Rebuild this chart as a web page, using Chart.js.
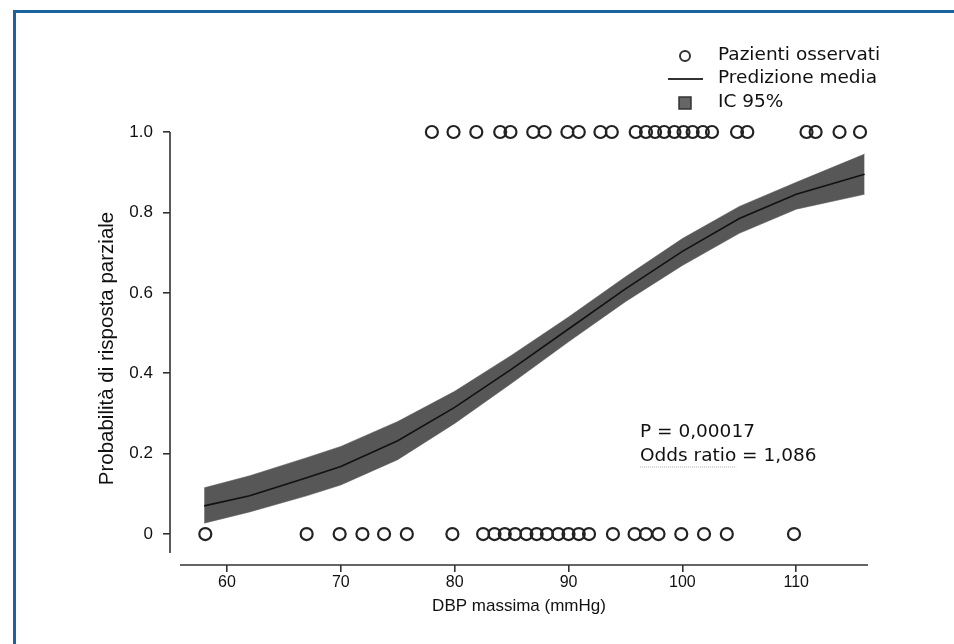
<!DOCTYPE html>
<html>
<head>
<meta charset="utf-8">
<script src="https://cdn.jsdelivr.net/npm/chart.js@4"></script>
<style>
  html, body { margin: 0; padding: 0; background: #fff; }
  canvas { display: block; }
</style>
</head>
<body>
<canvas id="chart" width="954" height="644"></canvas>
<script>
// axis ticks
const xTicks = [60, 70, 80, 90, 100, 110];
const yTicks = [0, 0.2, 0.4, 0.6, 0.8, 1.0];
const yTickLabels = ["0", "0.2", "0.4", "0.6", "0.8", "1.0"];

// observed patients (DBP massima), responders at 1, non responders at 0
const respondersDbp = [78.0, 79.9, 81.9, 84.0, 84.9, 86.9, 87.9, 89.9, 90.9, 92.8, 93.8,
  95.9, 96.8, 97.6, 98.4, 99.3, 100.1, 100.9, 101.8, 102.6, 104.8, 105.7,
  110.9, 111.7, 113.8, 115.6];
const nonRespondersDbp = [58.1, 67.0, 69.9, 71.9, 73.8, 75.8, 79.8,
  82.5, 83.5, 84.4, 85.3, 86.3, 87.2, 88.1, 89.1, 90.0, 90.9, 91.8,
  93.9, 95.8, 96.8, 97.9, 99.9, 101.9, 103.9, 109.8];

// predicted probability and 95% CI
const curveDbp   = [58, 62, 67, 70, 75, 80, 85, 90, 95, 100, 105, 110, 116];
const curveMean  = [0.070, 0.095, 0.140, 0.168, 0.232, 0.315, 0.410, 0.510, 0.610, 0.703, 0.785, 0.845, 0.895];
const curveUpper = [0.115, 0.145, 0.190, 0.218, 0.280, 0.355, 0.445, 0.540, 0.640, 0.735, 0.815, 0.875, 0.945];
const curveLower = [0.027, 0.055, 0.095, 0.122, 0.185, 0.275, 0.375, 0.478, 0.578, 0.668, 0.748, 0.808, 0.845];

const legendItems = ["Pazienti osservati", "Predizione media", "IC 95%"];
const noteLines = ["P = 0,00017", "Odds ratio = 1,086"];

const toPoints = (xs, ys) => xs.map((x, i) => ({ x: x, y: ys[i] }));

// white page, blue frame, offset axis lines, legend and note
const decorPlugin = {
  id: "decor",
  beforeDraw(chart) {
    const c = chart.ctx;
    c.save();
    c.fillStyle = "#fff";
    c.fillRect(0, 0, chart.width, chart.height);
    c.fillStyle = "#1b62a1";
    c.fillRect(13, 10, chart.width - 13, 3);
    c.fillRect(13, 10, 3, chart.height - 10);
    c.restore();
  },
  afterDraw(chart) {
    const c = chart.ctx;
    const area = chart.chartArea;
    const y = chart.scales.y;
    c.save();
    c.strokeStyle = "#333";
    c.lineWidth = 1.6;
    c.beginPath();
    c.moveTo(area.left, y.getPixelForValue(1.0));
    c.lineTo(area.left, area.bottom - 12);
    c.moveTo(area.left + 10, area.bottom);
    c.lineTo(area.right, area.bottom);
    c.stroke();

    // legend
    c.font = "18.5px 'DejaVu Sans', Verdana, sans-serif";
    c.fillStyle = "#111";
    c.textBaseline = "middle";
    c.textAlign = "left";
    const rows = [55, 78, 102];
    legendItems.forEach((t, i) => c.fillText(t, 718, rows[i]));
    c.strokeStyle = "#333";
    c.lineWidth = 2;
    c.beginPath();
    c.arc(685, rows[0] + 1, 5, 0, Math.PI * 2);
    c.stroke();
    c.beginPath();
    c.moveTo(668, rows[1] + 1);
    c.lineTo(703, rows[1] + 1);
    c.stroke();
    c.fillStyle = "#666";
    c.fillRect(679, rows[2] - 5, 12, 12);
    c.lineWidth = 1.5;
    c.strokeRect(679, rows[2] - 5, 12, 12);

    // note
    c.fillStyle = "#111";
    c.fillText(noteLines[0], 640, 432);
    c.fillText(noteLines[1], 640, 456);
    const w = c.measureText("Odds ratio").width;
    c.strokeStyle = "#b0b0b0";
    c.lineWidth = 1;
    c.setLineDash([1, 1]);
    c.beginPath();
    c.moveTo(640, 467);
    c.lineTo(640 + w, 467);
    c.stroke();
    c.restore();
  }
};

new Chart(document.getElementById("chart"), {
  type: "line",
  data: {
    datasets: [
      {
        label: "Pazienti osservati",
        data: respondersDbp.map(x => ({ x: x, y: 1 })).concat(nonRespondersDbp.map(x => ({ x: x, y: 0 }))),
        showLine: false,
        pointStyle: "circle",
        pointRadius: 6,
        pointBorderWidth: 2.2,
        pointBorderColor: "#222",
        pointBackgroundColor: "rgba(0,0,0,0)",
        clip: false,
        order: 0
      },
      {
        label: "Predizione media",
        data: toPoints(curveDbp, curveMean),
        borderColor: "#111",
        borderWidth: 1.6,
        pointRadius: 0,
        fill: false,
        order: 1
      },
      {
        label: "IC 95% sup",
        data: toPoints(curveDbp, curveUpper),
        borderColor: "#575757",
        borderWidth: 0.5,
        backgroundColor: "#575757",
        pointRadius: 0,
        fill: "+1",
        order: 2
      },
      {
        label: "IC 95% inf",
        data: toPoints(curveDbp, curveLower),
        borderColor: "#575757",
        borderWidth: 0.5,
        pointRadius: 0,
        fill: false,
        order: 3
      }
    ]
  },
  options: {
    responsive: false,
    devicePixelRatio: 1,
    animation: false,
    layout: { padding: { left: 95, top: 132, right: 86, bottom: 0 } },
    plugins: { legend: { display: false }, tooltip: { enabled: false } },
    scales: {
      x: {
        type: "linear",
        min: 55.0,
        max: 116.3,
        afterBuildTicks: s => { s.ticks = xTicks.map(v => ({ value: v })); },
        afterFit: s => { s.height = 79; },
        border: { display: false },
        grid: { display: true, drawOnChartArea: false, drawTicks: true, tickLength: 7, color: "#333", lineWidth: 1.6 },
        ticks: { padding: 1, color: "#111", font: { family: "'Liberation Sans', Arial, sans-serif", size: 16 } },
        title: {
          display: true,
          text: "DBP massima (mmHg)",
          color: "#111",
          padding: { top: 0, bottom: 27 },
          font: { family: "'Liberation Sans', Arial, sans-serif", size: 17 }
        }
      },
      y: {
        min: -0.077,
        max: 1.0,
        afterBuildTicks: s => { s.ticks = yTicks.map(v => ({ value: v })); },
        afterFit: s => { s.width = 75; },
        border: { display: false },
        grid: { display: true, drawOnChartArea: false, drawTicks: true, tickLength: 7, color: "#333", lineWidth: 1.6 },
        ticks: {
          padding: 10,
          color: "#111",
          font: { family: "'Liberation Sans', Arial, sans-serif", size: 17 },
          callback: (v) => yTickLabels[yTicks.indexOf(v)]
        },
        title: {
          display: true,
          text: "Probabilità di risposta parziale",
          color: "#111",
          padding: { top: 0, bottom: 0 },
          font: { family: "'Liberation Sans', Arial, sans-serif", size: 20.5 }
        }
      }
    }
  },
  plugins: [decorPlugin]
});
</script>
</body>
</html>
